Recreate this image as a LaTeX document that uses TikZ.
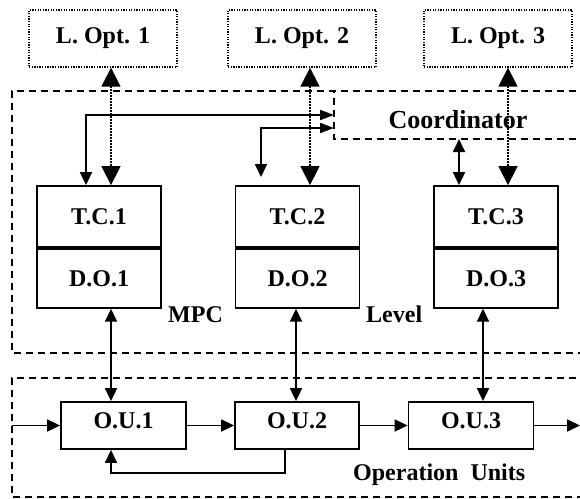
\documentclass[tikz,border=0pt]{standalone}
\usepackage{fontspec}
\setmainfont{Liberation Serif}
\usetikzlibrary{arrows.meta,calc}
\tikzset{
  smalltip/.tip={Triangle[length=13pt,width=12pt]},
  rtip/.tip={Triangle[length=14pt,width=10pt]},
  bigtip/.tip={Triangle[length=19pt,width=19pt]}
}
\begin{document}
\begin{tikzpicture}[x=1pt,y=-1pt,
  font=\fontsize{24}{28}\selectfont\bfseries,
  lopt/.style={draw,line width=1.3pt,dash pattern=on 1.3pt off 1.3pt,minimum width=148pt,minimum height=57pt,inner sep=0pt},
  unitbox/.style={draw,line width=1.8pt,minimum width=124pt,inner sep=0pt},
  region/.style={line width=1.6pt,dash pattern=on 7pt off 5pt},
  dotline/.style={line width=1.5pt,dash pattern=on 1.5pt off 1.5pt,bigtip-bigtip},
  solid2/.style={line width=1.8pt},
  lbl/.style={anchor=base west,inner sep=0pt}
]
\useasboundingbox (0,0) rectangle (580,498);

% regions
\draw[region] (600,91) -- (12,91) -- (12,353) -- (600,353);
\draw[region] (600,139) -- (334,139) -- (334,91);
\draw[region] (600,378) -- (12,378) -- (12,497) -- (600,497);

% local optimizers
\node[lopt] (lo1) at (103,38.5) {L. Opt. 1};
\node[lopt] (lo2) at (302,38.5) {L. Opt. 2};
\node[lopt] (lo3) at (498,38.5) {L. Opt. 3};

% T.C. / D.O. boxes
\node[unitbox,minimum height=61pt] (tc1) at (99,216.5) {T.C.1};
\node[unitbox,minimum height=59pt,anchor=north] (do1) at (tc1.south) {D.O.1};
\node[unitbox,minimum height=61pt] (tc2) at (297.5,216.5) {T.C.2};
\node[unitbox,minimum height=59pt,anchor=north] (do2) at (tc2.south) {D.O.2};
\node[unitbox,minimum height=61pt] (tc3) at (496,216.5) {T.C.3};
\node[unitbox,minimum height=59pt,anchor=north] (do3) at (tc3.south) {D.O.3};

% operation units
\node[unitbox,minimum height=47pt,minimum width=125pt,text height=16pt,text depth=10pt] (ou1) at (123.5,425.5) {O.U.1};
\node[unitbox,minimum height=47pt,text height=16pt,text depth=10pt] (ou2) at (297,425.5) {O.U.2};
\node[unitbox,minimum height=47pt,minimum width=125pt,text height=16pt,text depth=10pt] (ou3) at (471,425.5) {O.U.3};

% labels
\node[font=\fontsize{26}{30}\selectfont\bfseries,anchor=base,inner sep=0pt] (coordlbl) at (458,128) {Coordinator};
\node[lbl] (mpc) at (168,322) {MPC};
\node[lbl] (lvl) at (366,322) {Level};
\node[lbl] (oplbl) at (353,480) {Operation\hspace{12pt}Units};

% helper coordinates
\coordinate (d1) at (111,0);
\coordinate (d2) at (310,0);
\coordinate (d3) at (508,0);
\coordinate (a1) at (86,0);
\coordinate (ci1) at (334,115);
\coordinate (ci2) at (334,128);
\coordinate (e2) at (261,177);
\coordinate (cb) at (459,139);
\coordinate (v1) at (111,0);
\coordinate (v2) at (296,0);
\coordinate (v3) at (483,0);
\coordinate (inL) at (12,425.5);
\coordinate (outR) at (580,425.5);
\coordinate (fb) at (285,473);

% dotted optimizer links
\draw[dotline] (lo1.south -| d1) -- (tc1.north -| d1);
\draw[dotline] (lo2.south -| d2) -- (tc2.north -| d2);
\draw[dotline] (lo3.south -| d3) -- (tc3.north -| d3);

% coordinator links
\draw[solid2,smalltip-rtip] (tc1.north -| a1) |- (ci1);
\draw[solid2,smalltip-rtip] (e2) |- (ci2);
\draw[solid2,smalltip-smalltip] (cb) -- (tc3.north -| cb);

% D.O. to O.U. links
\draw[solid2,smalltip-smalltip] (do1.south -| v1) -- (ou1.north -| v1);
\draw[solid2,smalltip-smalltip] (do2.south -| v2) -- (ou2.north -| v2);
\draw[solid2,smalltip-smalltip] (do3.south -| v3) -- (ou3.north -| v3);

% process chain
\draw[solid2,-smalltip] (inL) -- (ou1.west);
\draw[solid2,-smalltip] (ou1.east) -- (ou2.west);
\draw[solid2,-smalltip] (ou2.east) -- (ou3.west);
\draw[solid2,-smalltip] (ou3.east) -- (outR);
\draw[line width=1.4pt,-smalltip] (ou2.south -| fb) -- (fb) -| (ou1.south -| v1);
\end{tikzpicture}
\end{document}
